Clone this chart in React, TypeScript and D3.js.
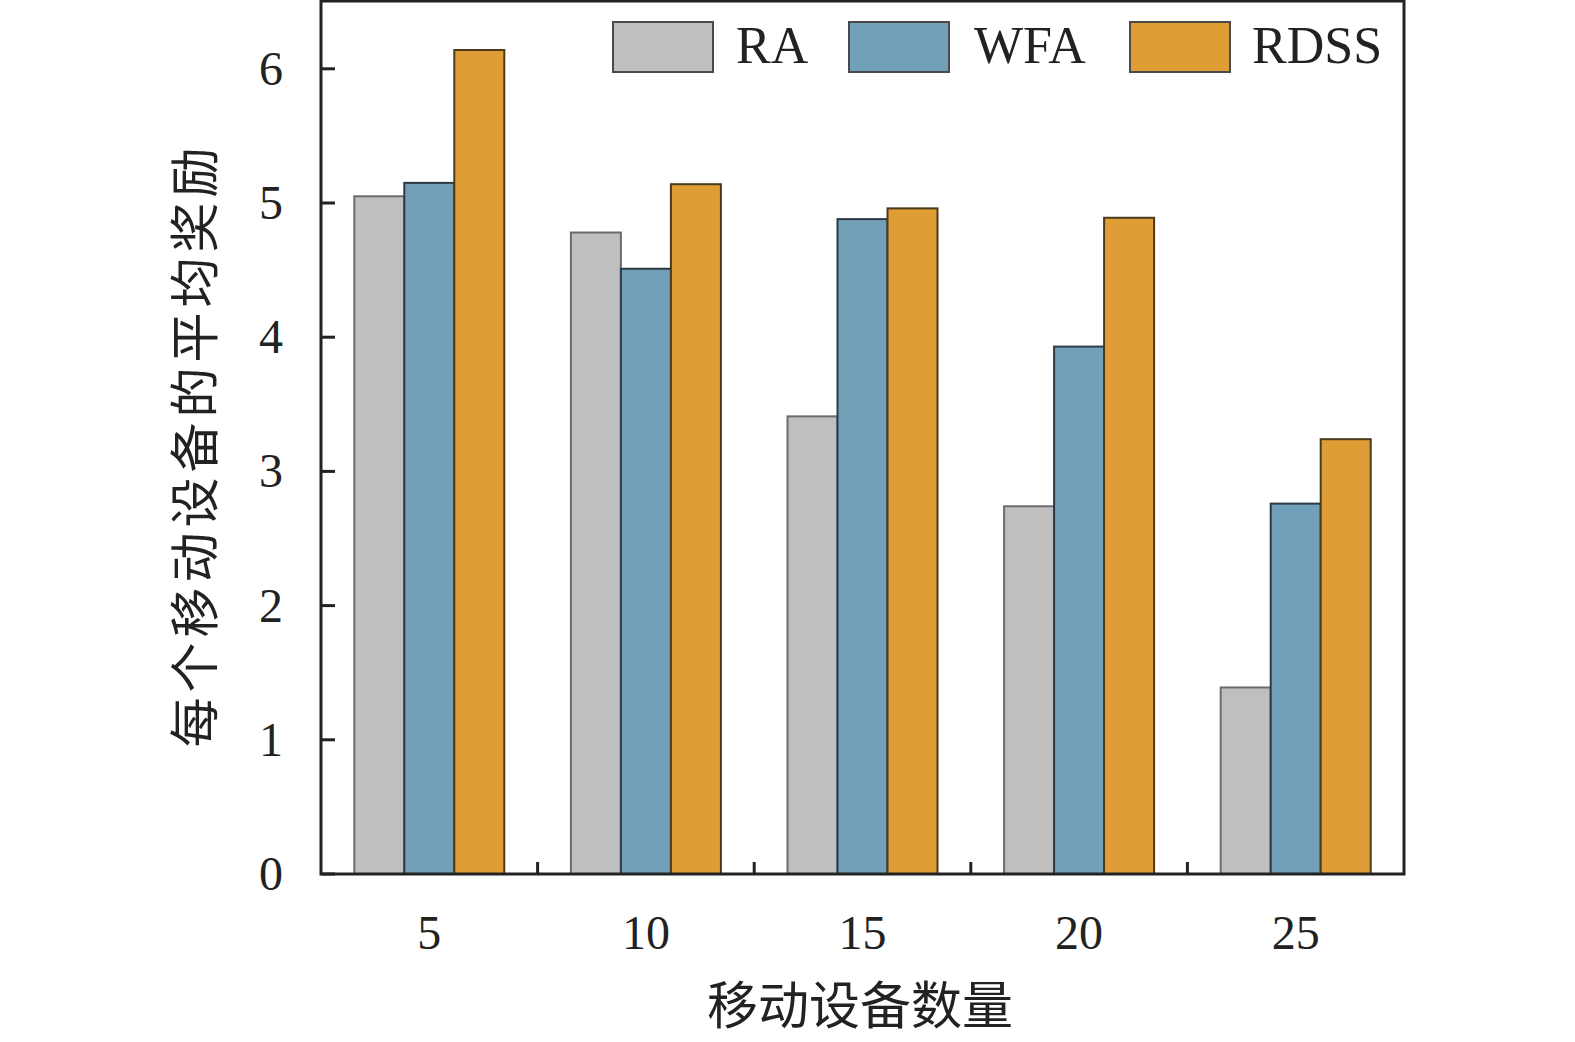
import React, { useEffect, useRef } from "react";
import * as d3 from "d3";

const categories = ["5", "10", "15", "20", "25"];
const seriesNames = ["RA", "WFA", "RDSS"];
const raValues = [5.05, 4.78, 3.41, 2.74, 1.39];
const wfaValues = [5.15, 4.51, 4.88, 3.93, 2.76];
const rdssValues = [6.14, 5.14, 4.96, 4.89, 3.24];
const yTicks = [0, 1, 2, 3, 4, 5, 6];
const xTitle = "移动设备数量";
const yTitle = "每个移动设备的平均奖励";

const fills = ["#bfbfbf", "#72a0b8", "#df9d36"];
const strokes = ["#6a6a70", "#2c3a46", "#4a3a1e"];

export default function App() {
  const ref = useRef<SVGSVGElement>(null);
  useEffect(() => {
    const svg = d3.select(ref.current);
    svg.selectAll("*").remove();
    const L = 321, R = 1404, T = 1, B = 874;
    const serif = "'Liberation Serif', 'Times New Roman', serif";
    const cjk = "'Noto Sans CJK SC', sans-serif";

    const x = d3.scaleBand<string>().domain(categories).range([L, R]).paddingInner(0).paddingOuter(0);
    const xs = d3.scaleBand<string>().domain(seriesNames).range([0, 150]);
    const y = d3.scaleLinear().domain([0, 6]).range([B, B - 6 * 134.2]);

    const series = [raValues, wfaValues, rdssValues];
    const g = svg.append("g");

    const groupOff = (x.bandwidth() - 150) / 2;
    series.forEach((vals, si) => {
      g.selectAll(null)
        .data(vals)
        .enter()
        .append("rect")
        .attr("x", (_d, i) => (x(categories[i]) as number) + groupOff + (xs(seriesNames[si]) as number))
        .attr("y", (d) => y(d))
        .attr("width", xs.bandwidth())
        .attr("height", (d) => B - y(d))
        .attr("fill", fills[si])
        .attr("stroke", strokes[si])
        .attr("stroke-width", 2);
    });

    // frame
    svg.append("rect")
      .attr("x", L).attr("y", T).attr("width", R - L).attr("height", B - T)
      .attr("fill", "none").attr("stroke", "#222").attr("stroke-width", 3);

    // y ticks
    yTicks.forEach((t) => {
      svg.append("line")
        .attr("x1", L).attr("x2", L + 14).attr("y1", y(t)).attr("y2", y(t))
        .attr("stroke", "#222").attr("stroke-width", 3);
      svg.append("text")
        .attr("x", 283).attr("y", y(t) + 16)
        .attr("text-anchor", "end")
        .attr("font-family", serif).attr("font-size", 48).attr("fill", "#222")
        .text(String(t));
    });

    // x ticks at band boundaries
    categories.slice(1).forEach((c) => {
      const xv = x(c) as number;
      svg.append("line")
        .attr("x1", xv).attr("x2", xv).attr("y1", B).attr("y2", B - 12)
        .attr("stroke", "#222").attr("stroke-width", 3);
    });
    categories.forEach((c) => {
      svg.append("text")
        .attr("x", (x(c) as number) + x.bandwidth() / 2)
        .attr("y", 949)
        .attr("text-anchor", "middle")
        .attr("font-family", serif).attr("font-size", 48).attr("fill", "#222")
        .text(c);
    });

    // axis titles
    svg.append("text")
      .attr("x", 860).attr("y", 1024)
      .attr("text-anchor", "middle")
      .attr("font-family", cjk).attr("font-size", 51).attr("fill", "#222")
      .text(xTitle);
    svg.append("text")
      .attr("transform", `translate(213, 445) rotate(-90)`)
      .attr("text-anchor", "middle")
      .attr("font-family", cjk).attr("font-size", 50).attr("letter-spacing", 5).attr("fill", "#222")
      .text(yTitle);

    // legend
    const legendBoxX = [613, 849, 1130];
    const legendTextX = [736, 974, 1252];
    seriesNames.forEach((n, i) => {
      svg.append("rect")
        .attr("x", legendBoxX[i]).attr("y", 22).attr("width", 100).attr("height", 50)
        .attr("fill", fills[i]).attr("stroke", "#4a4a4a").attr("stroke-width", 2);
      svg.append("text")
        .attr("x", legendTextX[i]).attr("y", 63)
        .attr("font-family", serif).attr("font-size", 52).attr("fill", "#222")
        .text(n);
    });
  }, []);
  return (
    <svg
      ref={ref}
      width={1575}
      height={1042}
      style={{ position: "absolute", left: 0, top: 0, background: "#fff" }}
    />
  );
}
